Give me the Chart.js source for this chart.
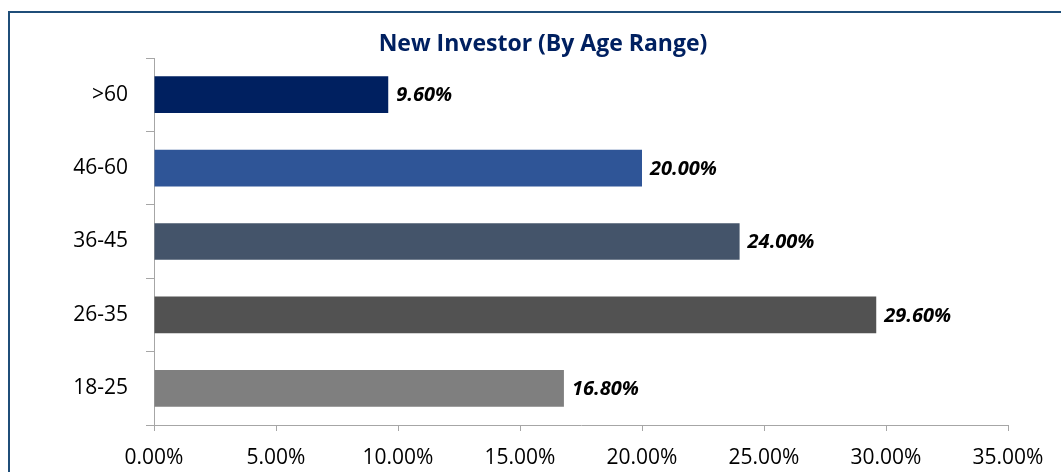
<!DOCTYPE html>
<html>
<head>
<meta charset="utf-8">
<script src="https://cdn.jsdelivr.net/npm/chart.js@4/dist/chart.umd.min.js"></script>
<style>
    html, body { margin: 0; padding: 0; background: #fff; overflow: hidden; }
    #box {
        position: absolute;
        left: 8px;
        top: 11px;
        width: 1066px;
        height: 470px;
        border: 2px solid #1F4E79;
        background: #fff;
    }
    #chart { display: block; }
</style>
</head>
<body>
<div id="box"><canvas id="chart" width="1066" height="459"></canvas></div>
<script>
// data
var chartTitle = "New Investor (By Age Range)";
var ageRanges = [">60", "46-60", "36-45", "26-35", "18-25"];
var investorShare = [9.6, 20.0, 24.0, 29.6, 16.8];
var barColors = ["#002060", "#2F5597", "#44546A", "#525252", "#7F7F7F"];
var xTicks = [0, 5, 10, 15, 20, 25, 30, 35];

var FONT = "'Open Sans', 'Noto Sans', sans-serif";
var AXIS_GRAY = "#A6A6A6";

// value labels at the end of each bar + title centred on the whole box
var barLabels = {
    id: "barLabels",
    afterDatasetsDraw: function (chart) {
        var ctx = chart.ctx;
        var meta = chart.getDatasetMeta(0);
        ctx.save();
        ctx.font = "italic bold 20px " + FONT;
        ctx.fillStyle = "#000";
        ctx.textAlign = "left";
        ctx.textBaseline = "middle";
        meta.data.forEach(function (bar, i) {
            ctx.fillText(investorShare[i].toFixed(2) + "%", bar.x + 8, bar.y + 1);
        });

        ctx.font = "bold 23px " + FONT;
        ctx.fillStyle = "#002060";
        ctx.textAlign = "center";
        ctx.textBaseline = "alphabetic";
        ctx.fillText(chartTitle, chart.width / 2, 38);
        ctx.restore();
    }
};

var ctx = document.getElementById("chart").getContext("2d");
var chart = new Chart(ctx, {
    type: "bar",
    data: {
        labels: ageRanges,
        datasets: [
            {
                data: investorShare,
                backgroundColor: barColors,
                borderWidth: 0,
                barPercentage: 0.5,
                categoryPercentage: 1.0,
            },
        ],
    },
    options: {
        indexAxis: "y",
        responsive: false,
        animation: false,
        layout: { padding: { left: 0, right: 68, top: 45, bottom: 0 } },
        plugins: {
            legend: { display: false },
            tooltip: { enabled: false },
            title: { display: false },
        },
        scales: {
            x: {
                min: 0,
                max: 35,
                afterBuildTicks: function (scale) {
                    scale.ticks = xTicks.map(function (v) { return { value: v }; });
                },
                afterFit: function (scale) { scale.height = 47; },
                grid: { drawOnChartArea: false, tickLength: 6, color: AXIS_GRAY },
                border: { color: AXIS_GRAY, width: 1 },
                ticks: {
                    color: "#000",
                    padding: 14,
                    maxRotation: 0,
                    font: { family: FONT, size: 21 },
                    callback: function (v) { return Number(v).toFixed(2) + "%"; },
                },
            },
            y: {
                afterFit: function (scale) { scale.width = 144; },
                grid: { drawOnChartArea: false, tickLength: 8, color: AXIS_GRAY, offset: true },
                border: { color: AXIS_GRAY, width: 1 },
                ticks: {
                    color: "#000",
                    padding: 18,
                    font: { family: FONT, size: 21 },
                },
            },
        },
    },
    plugins: [barLabels],
});
</script>
</body>
</html>
